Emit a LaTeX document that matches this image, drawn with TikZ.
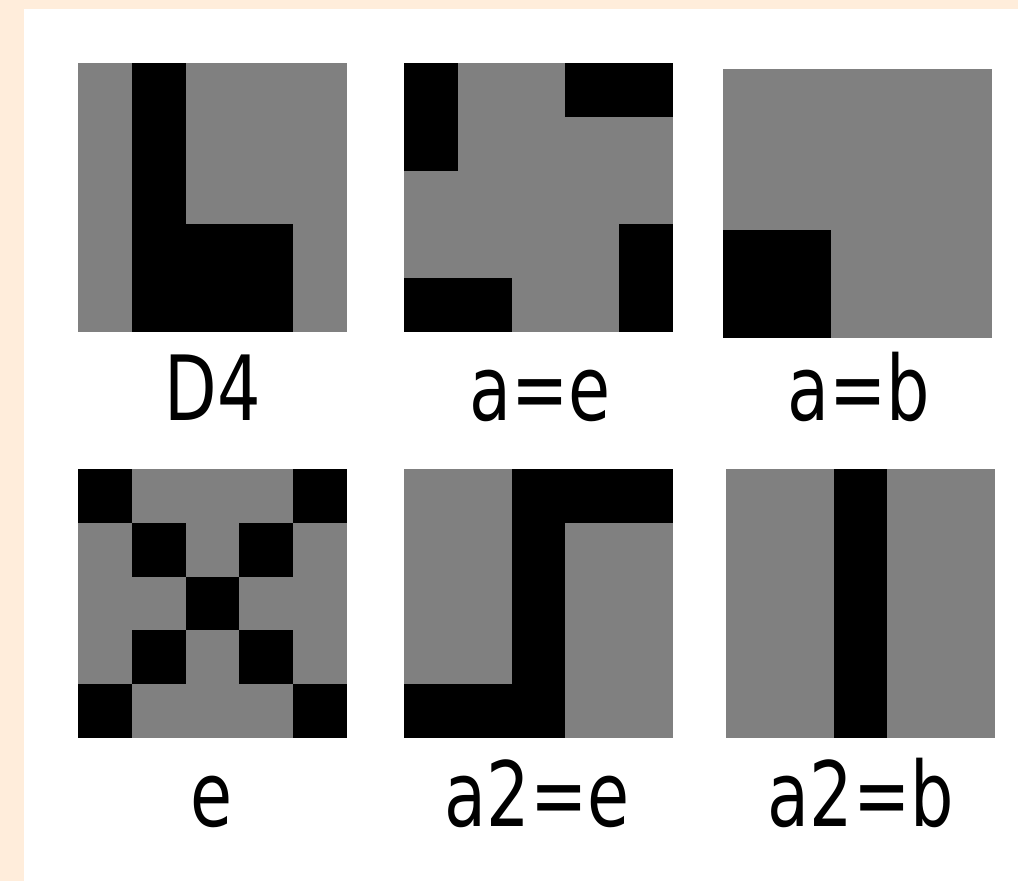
\documentclass[tikz,border=0pt]{standalone}
\usepackage{fontspec}
\setmainfont{DejaVu Sans}
\definecolor{cellgray}{HTML}{808080}
\definecolor{peach}{HTML}{FFEDDB}
\newcommand\lbltext[1]{\scalebox{0.76}[1]{\fontsize{90}{100}\selectfont #1}}
\begin{document}
\begin{tikzpicture}[x=1pt,y=-1pt,
  lbl/.style={anchor=base,inner sep=0pt,text=black},
  panelbg/.style={fill=cellgray},
  blk/.style={fill=black}]
\useasboundingbox (0,0) rectangle (1018,881);
\fill[peach] (0,0) rectangle (1018,881);
\fill[white] (24,9) rectangle (1018,881);
% Panel D4
\begin{scope}[shift={(78,63)},x=53.8pt,y=-53.8pt]
  \fill[panelbg] (0,0) rectangle (5,5);
  \fill[blk] (1,0) rectangle (2,5);
  \fill[blk] (2,3) rectangle (4,5);
\end{scope}
% Panel a=e
\begin{scope}[shift={(404,63)},x=53.8pt,y=-53.8pt]
  \fill[panelbg] (0,0) rectangle (5,5);
  \fill[blk] (0,0) rectangle (1,2);
  \fill[blk] (3,0) rectangle (5,1);
  \fill[blk] (0,4) rectangle (2,5);
  \fill[blk] (4,3) rectangle (5,5);
\end{scope}
% Panel a=b
\begin{scope}[shift={(723,69)},x=53.8pt,y=-53.8pt]
  \fill[panelbg] (0,0) rectangle (5,5);
  \fill[blk] (0,3) rectangle (2,5);
\end{scope}
% Panel e
\begin{scope}[shift={(78,469)},x=53.8pt,y=-53.8pt]
  \fill[panelbg] (0,0) rectangle (5,5);
  \foreach \cx/\cy in {0/0,4/0,1/1,3/1,2/2,1/3,3/3,0/4,4/4}
    \fill[blk] (\cx,\cy) rectangle ++(1,1);
\end{scope}
% Panel a2=e
\begin{scope}[shift={(404,469)},x=53.8pt,y=-53.8pt]
  \fill[blk] (0,0) rectangle (5,5);
  \fill[panelbg] (0,0) rectangle (2,4);
  \fill[panelbg] (3,1) rectangle (5,5);
\end{scope}
% Panel a2=b
\begin{scope}[shift={(726,469)},x=53.8pt,y=-53.8pt]
  \fill[panelbg] (0,0) rectangle (5,5);
  \fill[blk] (2,0) rectangle (3,5);
\end{scope}
% Labels
\node[lbl] (l1) at (213,420) {\lbltext{D4}};
\node[lbl] (l2) at (540,420) {\lbltext{a=e}};
\node[lbl] (l3) at (859,420) {\lbltext{a=b}};
\node[lbl] (l4) at (212,826) {\lbltext{e}};
\node[lbl] (l5) at (537,826) {\lbltext{a2=e}};
\node[lbl] (l6) at (861,826) {\lbltext{a2=b}};
\end{tikzpicture}
\end{document}
